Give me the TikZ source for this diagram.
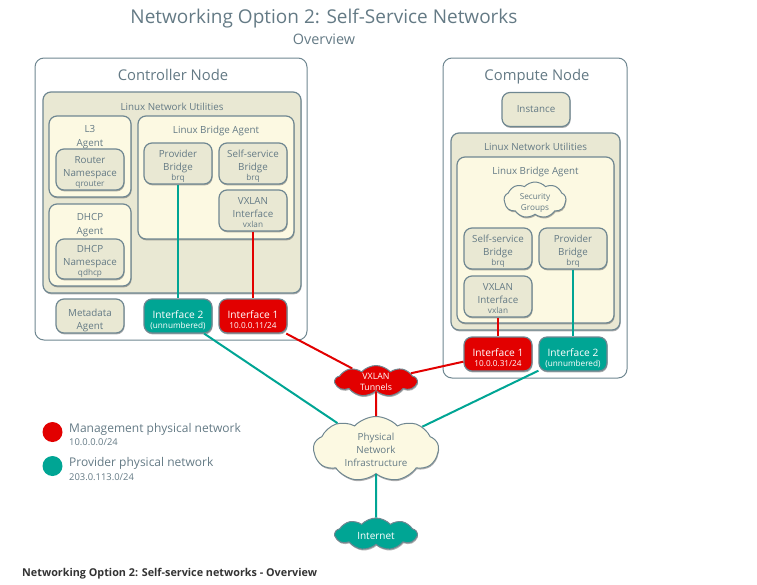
\documentclass[tikz,border=0pt]{standalone}
\usepackage{fontspec}
\setmainfont{Open Sans}
\usetikzlibrary{shapes.symbols,shadows}
\definecolor{edgegrey}{HTML}{6F8791}
\definecolor{textgrey}{HTML}{647A85}
\definecolor{boxfill}{HTML}{E9E8D3}
\definecolor{creamfill}{HTML}{FCF9E2}
\definecolor{netred}{HTML}{E20000}
\definecolor{netteal}{HTML}{00A594}
\tikzset{
    softshadow/.style={drop shadow={shadow xshift=0.6pt,shadow yshift=-1.4pt,opacity=0.45,fill=black!70}},
    hostbox/.style={draw=edgegrey,line width=1pt,rounded corners=9pt,fill=white,inner sep=0pt},
    utilbox/.style={draw=edgegrey,line width=1.2pt,rounded corners=8pt,fill=boxfill,inner sep=0pt,softshadow},
    agentbox/.style={draw=edgegrey,line width=1.2pt,rounded corners=8pt,fill=creamfill,inner sep=0pt,softshadow},
    itembox/.style={draw=edgegrey,line width=1.2pt,rounded corners=8pt,fill=boxfill,text=textgrey,align=center,inner sep=0pt,minimum width=68pt,font=\fontsize{9.8}{13}\selectfont,softshadow},
    redbox/.style={itembox,fill=netred,text=white,minimum height=34pt,font=\fontsize{10.2}{13}\selectfont},
    tealbox/.style={itembox,fill=netteal,text=white,minimum height=34pt,font=\fontsize{10.2}{13}\selectfont},
    netcloud/.style={cloud,cloud puffs=9,cloud puff arc=95,cloud ignores aspect,draw=edgegrey,line width=1pt,inner sep=0pt,softshadow},
    boxtitle/.style={text=textgrey,inner sep=0pt,align=center,font=\fontsize{9.8}{14}\selectfont},
    hosttitle/.style={text=textgrey,inner sep=0pt,text height=10pt,text depth=3pt,font=\fontsize{14.8}{16}\selectfont},
    redline/.style={draw=netred,line width=2pt},
    tealline/.style={draw=netteal,line width=2pt},
    legenddot/.style={circle,inner sep=0pt,minimum size=20pt}
}
\newcommand{\subline}[1]{{\fontsize{8.2}{10}\selectfont #1}}
\newcommand{\topgap}{\rule{0pt}{12pt}}
\newcommand{\pairgap}{\rule{0pt}{15.5pt}}
\begin{document}
\begin{tikzpicture}[x=1pt,y=-1pt]
    \useasboundingbox (0,0) rectangle (757,584);

    \node[text=textgrey,inner sep=0pt,font=\fontsize{19}{22}\selectfont] (maintitle) at (324,19) {Networking Option 2: Self-Service Networks};
    \node[text=textgrey,inner sep=0pt,font=\fontsize{14.4}{16}\selectfont] (subtitle) at (324,39) {Overview};

    % controller node
    \node[hostbox,minimum width=272pt,minimum height=282pt] (ctrl) at (171,199) {};
    \node[hosttitle] (ctrltitle) at (173,77) {Controller Node};
    \node[utilbox,minimum width=258pt,minimum height=201pt] (ctrlutil) at (172,192.5) {};
    \node[boxtitle] (ctrlutiltitle) at (172,107) {Linux Network Utilities};
    \node[agentbox,minimum width=82pt,minimum height=81pt] (lthree) at (90,156.5) {};
    \node[boxtitle] (lthreetitle) at (90,137) {L3\\Agent};
    \node[itembox,minimum height=41pt] (routerns) at (90,169.5) {\topgap Router\\Namespace\\[-3pt]\subline{qrouter}};
    \node[agentbox,minimum width=82pt,minimum height=82pt] (dhcp) at (90,245) {};
    \node[boxtitle] (dhcptitle) at (90,225.5) {DHCP\\Agent};
    \node[itembox,minimum height=40pt] (dhcpns) at (90,259) {\topgap DHCP\\Namespace\\[-3pt]\subline{qdhcp}};
    \node[agentbox,minimum width=156pt,minimum height=123pt] (ctrlagent) at (216,177.5) {};
    \node[boxtitle] (ctrlagenttitle) at (216,130.5) {Linux Bridge Agent};
    \node[itembox,minimum height=41pt] (ctrlprov) at (178,163.5) {\topgap Provider\\Bridge\\[-3pt]\subline{brq}};
    \node[itembox,minimum height=41pt] (ctrlself) at (253,163.5) {\topgap Self-service\\Bridge\\[-3pt]\subline{brq}};
    \node[itembox,minimum height=41pt] (ctrlvxlan) at (253,210.5) {\topgap VXLAN\\Interface\\[-3pt]\subline{vxlan}};
    \node[itembox,minimum height=34pt] (metadata) at (90,316) {\pairgap Metadata\\Agent};
    \node[tealbox] (ctrlif2) at (178,316) {\pairgap Interface 2\\[-3pt]\subline{(unnumbered)}};
    \node[redbox] (ctrlif1) at (253,316) {\pairgap Interface 1\\[-3pt]\subline{10.0.0.11/24}};

    % compute node
    \node[hostbox,minimum width=184pt,minimum height=320pt] (comp) at (535,218) {};
    \node[hosttitle] (comptitle) at (537,77) {Compute Node};
    \node[itembox,minimum height=34pt] (instance) at (536,109.5) {Instance};
    \node[utilbox,minimum width=169pt,minimum height=197pt] (computil) at (535.5,231.5) {};
    \node[boxtitle] (computiltitle) at (535.5,147) {Linux Network Utilities};
    \node[agentbox,minimum width=157pt,minimum height=166pt] (compagent) at (535.5,240) {};
    \node[boxtitle] (compagenttitle) at (535.5,171.5) {Linux Bridge Agent};
    \node[netcloud,fill=creamfill,minimum width=62pt,minimum height=36pt,label={[yshift=-3pt,text=textgrey,align=center,font=\fontsize{8.2}{10.5}\selectfont]center:Security\\Groups}] (secgroups) at (535,200) {};
    \node[itembox,minimum height=41pt] (compself) at (498,248.5) {\topgap Self-service\\Bridge\\[-3pt]\subline{brq}};
    \node[itembox,minimum height=41pt] (compprov) at (573,248.5) {\topgap Provider\\Bridge\\[-3pt]\subline{brq}};
    \node[itembox,minimum height=41pt] (compvxlan) at (498,296.5) {\topgap VXLAN\\Interface\\[-3pt]\subline{vxlan}};
    \node[redbox] (compif1) at (498,354) {\pairgap Interface 1\\[-3pt]\subline{10.0.0.31/24}};
    \node[tealbox] (compif2) at (573,354) {\pairgap Interface 2\\[-3pt]\subline{(unnumbered)}};

    % clouds
    \node[netcloud,fill=netred,minimum width=82pt,minimum height=31pt,label={[yshift=-1pt,text=white,align=center,font=\fontsize{8.8}{10.5}\selectfont]center:VXLAN\\Tunnels}] (vxcloud) at (376,381) {};
    \node[netcloud,fill=creamfill,minimum width=125pt,minimum height=65pt,label={[yshift=-1pt,text=textgrey,align=center,font=\fontsize{9.8}{13}\selectfont]center:Physical\\Network\\Infrastructure}] (physcloud) at (376,449) {};
    \node[netcloud,fill=netteal,minimum width=82pt,minimum height=32pt,label={[yshift=-2pt,text=white,font=\fontsize{10}{12}\selectfont]center:Internet}] (netcloud) at (376,534) {};

    % links
    \draw[tealline] (ctrlprov.south) to (ctrlif2.north); \draw[redline] (ctrlvxlan.south) to (ctrlif1.north);
    \draw[redline] (compvxlan.south) to (compif1.north); \draw[tealline] (compprov.south) to (compif2.north);
    \draw[redline] (ctrlif1) to (vxcloud); \draw[redline] (compif1) to (vxcloud);
    \draw[tealline] (ctrlif2) to (physcloud); \draw[tealline] (compif2) to (physcloud);
    \draw[redline] (vxcloud) to (physcloud); \draw[tealline] (physcloud) to (netcloud);

    % legend
    \node[legenddot,fill=netred] (mgmtdot) at (52.5,432) {};
    \node[legenddot,fill=netteal] (provdot) at (52.5,466) {};
    \node[anchor=west,text=textgrey,inner sep=0pt,font=\fontsize{12}{13}\selectfont] (mgmtname) at (69,429) {Management physical network};
    \node[anchor=west,text=textgrey,inner sep=0pt,font=\fontsize{9.4}{10}\selectfont] (mgmtaddr) at (69,442.5) {10.0.0.0/24};
    \node[anchor=west,text=textgrey,inner sep=0pt,font=\fontsize{12}{13}\selectfont] (provname) at (69,463) {Provider physical network};
    \node[anchor=west,text=textgrey,inner sep=0pt,font=\fontsize{9.4}{10}\selectfont] (provaddr) at (69,477) {203.0.113.0/24};

    \node[anchor=west,text=black!80,inner sep=0pt,font=\fontsize{10.8}{12}\bfseries\selectfont] (caption) at (22,573.5) {Networking Option 2: Self-service networks - Overview};
\end{tikzpicture}
\end{document}
